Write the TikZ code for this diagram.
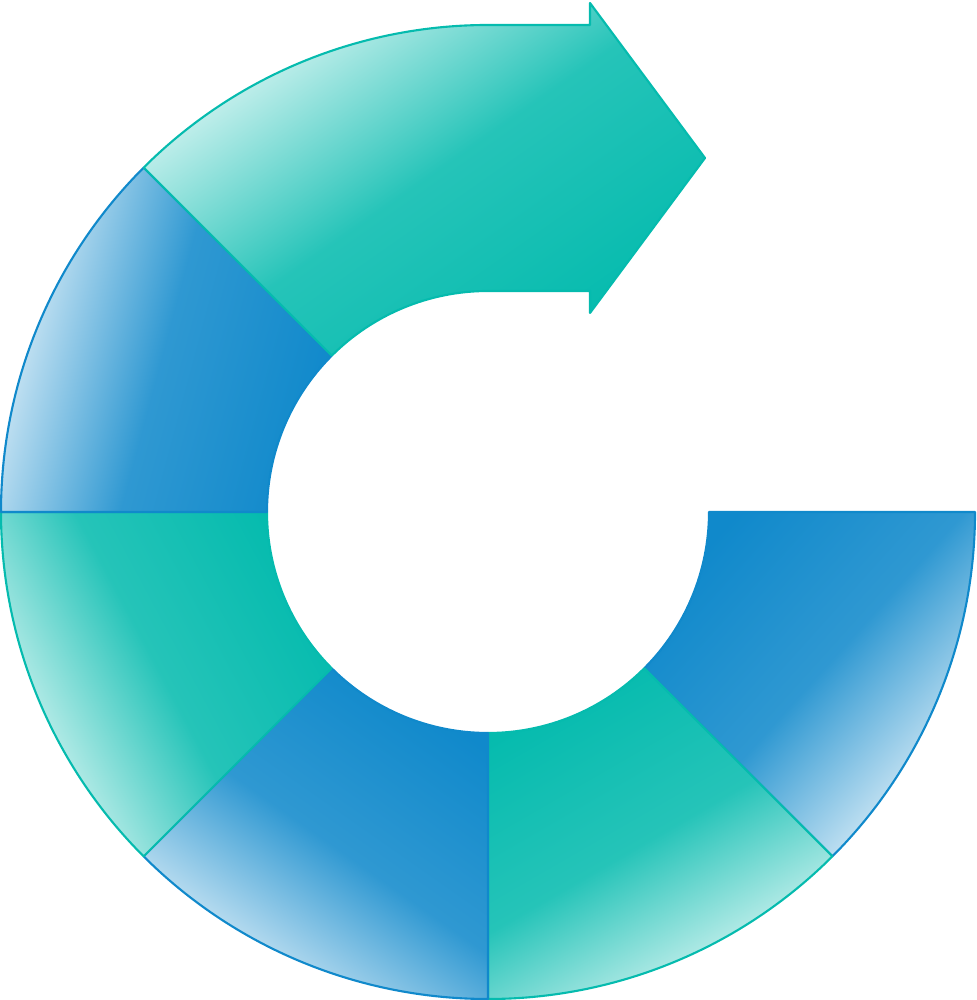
\documentclass[tikz,border=0pt]{standalone}
\definecolor{segblue}{HTML}{1089CB}
\definecolor{segteal}{HTML}{05BBAE}
\tikzset{
  bluepart/.style={draw=segblue, line width=0.6pt, line join=round,
    top color=segblue, bottom color=segblue!12, middle color=segblue!87!white,
    shading angle=#1},
  tealpart/.style={draw=segteal, line width=0.6pt, line join=round,
    top color=segteal, bottom color=segteal!12, middle color=segteal!87!white,
    shading angle=#1}
}
\begin{document}
\begin{tikzpicture}
      \useasboundingbox (-4.88,-4.88) rectangle (4.88,5.12);
      \def\R{4.87}
      \def\r{2.21}
      \begin{scope}
        \shadedraw[bluepart=48] (0:\R) arc[start angle=0, end angle=-45, radius=\R]
          -- (-45:\r) arc[start angle=-45, end angle=0, radius=\r] -- cycle;
        \shadedraw[tealpart=30] (-45:\R) arc[start angle=-45, end angle=-90, radius=\R]
          -- (-90:\r) arc[start angle=-90, end angle=-45, radius=\r] -- cycle;
        \shadedraw[bluepart=-35] (-90:\R) arc[start angle=-90, end angle=-135, radius=\R]
          -- (-135:\r) arc[start angle=-135, end angle=-90, radius=\r] -- cycle;
        \shadedraw[tealpart=-62] (-135:\R) arc[start angle=-135, end angle=-180, radius=\R]
          -- (180:\r) arc[start angle=180, end angle=225, radius=\r] -- cycle;
        \shadedraw[bluepart=-105] (180:\R) arc[start angle=180, end angle=135, radius=\R]
          -- (135:\r) arc[start angle=135, end angle=180, radius=\r] -- cycle;
        \shadedraw[tealpart=-145] (135:\R) arc[start angle=135, end angle=90, radius=\R]
          -- (1.02,\R) -- (1.02,5.09) -- (2.17,3.54) -- (1.02,1.99) -- (1.02,\r)
          -- (90:\r) arc[start angle=90, end angle=135, radius=\r] -- cycle;
      \end{scope}
    \end{tikzpicture}
\end{document}
